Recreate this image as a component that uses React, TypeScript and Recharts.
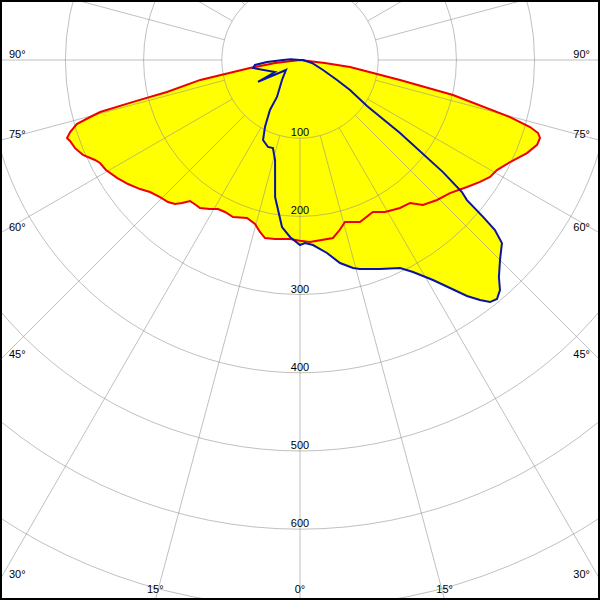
import React from 'react';
import { RadarChart, Radar, PolarGrid, PolarAngleAxis, PolarRadiusAxis } from 'recharts';

// ---- data (gamma in degrees, intensity in cd/klm) ----
// C0 / C180 plane (red), right half and left half
const redRight: [number, number][] = [
  [0, 231], [3.1, 233], [10.5, 231.5], [13.2, 223], [15.5, 215], [20.3, 221],
  [25.6, 215.6], [29.2, 222.7], [34.05, 228.4], [37.6, 230.7], [40.3, 243],
  [44.4, 250.5], [48.4, 256.4], [52.75, 268.3], [55.9, 278], [58.4, 285.3],
  [60.8, 288.5], [64.1, 298.6], [67.7, 313.7], [70.3, 322], [72.0, 322.7],
  [72.95, 318.4], [73.76, 306.4], [74.8, 278.3], [77.1, 200.7], [78.7, 130.4],
  [82, 64.6], [83.2, 32], [90, 0],
];
const redLeft: [number, number][] = [
  [3.2, 229.3], [7.95, 231.1], [11.12, 232], [13.1, 225.8], [15.34, 217.5],
  [18.54, 213.1], [23.1, 218.3], [26.26, 216.7], [28.8, 217.5], [31.13, 222.6],
  [34.05, 228.4], [35.65, 228.2], [37.96, 228.7], [39.5, 237.1], [40.96, 243.8],
  [42.9, 247.9], [45.6, 250.5], [48.65, 255.5], [51.1, 262.8], [54.2, 271.1],
  [57.2, 278.4], [60.45, 285.2], [62.75, 287.7], [64.0, 291.7], [66.4, 302.9],
  [68.6, 309], [70.6, 311.8], [71.5, 314.2], [72.6, 308], [74.0, 297],
  [74.8, 278], [75.4, 264], [75.9, 220], [76.5, 175], [78.7, 130], [80.9, 65],
  [83.2, 32], [90, 0],
];
// C90 / C270 plane (blue), right half and left half
const blueRight: [number, number][] = [
  [0, 236.6], [1.57, 234.1], [4.0, 237.2], [7.96, 249.2], [11.15, 264.6],
  [14.3, 274.5], [16.0, 278], [20.9, 286.2], [25.7, 295.1], [28.06, 307.2],
  [31.15, 328.7], [33.34, 349], [35.28, 369.7], [36.87, 383.6], [38.13, 393.5],
  [39.5, 396], [41.0, 389.8], [42.5, 376.5], [45.0, 361.7], [47.8, 348.6],
  [48.9, 330.8], [49.4, 308.3], [50.0, 278.7], [50.8, 267.2], [51.9, 232.3],
  [53.9, 158.3], [55.5, 104], [59.0, 74.6], [61.6, 53.8], [66.5, 32.1],
  [76, 15.8], [90, 3.8], [180, 0],
];
const blueLeft: [number, number][] = [
  [95, 12], [90, 21.7], [86.5, 42.3], [83.7, 57.9], [80.3, 61], [64.4, 35.5],
  [62.4, 60.6], [54.5, 22], [42, 34.4], [31.9, 55.7], [31.0, 74.6], [27.6, 96.7],
  [24.8, 112.7], [20.2, 118.5], [17.1, 117.7], [14.0, 131.8], [10.3, 178.1],
  [6.15, 214.8], [3.23, 226.7],
];

const ringValues = [100, 200, 300, 400, 500, 600, 700, 800];
const labelledRings = [100, 200, 300, 400, 500, 600];
const angleTicks = [0, 15, 30, 45, 60, 75, 90, 105, 120, 135, 150, 165, 180,
  195, 210, 225, 240, 255, 270, 285, 300, 315, 330, 345];

// ---- layout ----
const W = 600;
const H = 600;
const CX = 300;
const CY = 60;
const OUTER = 625.6; // pixel radius of 800
const INNER = 78.2; // pixel radius of 100 (grid starts here)
const FONT = '"Liberation Sans", Arial, sans-serif';
const TEXT_STYLE: React.CSSProperties = { fill: '#000000', stroke: 'none' };

type Pt = { pos: number; v: number };
function buildData(right: [number, number][], left: [number, number][]): Pt[] {
  const r = right.map(([g, v]) => ({ pos: g, v })).sort((a, b) => a.pos - b.pos);
  const l = left.map(([g, v]) => ({ pos: 360 - g, v })).sort((a, b) => a.pos - b.pos);
  return [...r, ...l];
}
const redData = buildData(redRight, redLeft);
const blueData = buildData(blueRight, blueLeft);
const gridData: Pt[] = ringValues.map((v, i) => ({ pos: angleTicks[i], v }));

const AngleTick = (props: any) => {
  const pos = Number(props?.payload?.value);
  const gamma = pos <= 180 ? pos : 360 - pos;
  if (!(gamma <= 90)) return <g />;
  const side = pos === 0 ? 0 : pos < 180 ? 1 : -1;
  const rad = (gamma * Math.PI) / 180;
  const s = Math.sin(rad);
  const c = Math.cos(rad);
  const tSide = s > 1e-9 ? (side === 1 ? W - CX : CX) / s : Infinity;
  const tBot = c > 1e-9 ? (H - CY) / c : Infinity;
  const label = `${gamma}°`;
  if (tSide < tBot) {
    const yHit = CY + tSide * c;
    return side === 1 ? (
      <text x={590} y={yHit - 2} textAnchor="end" fontSize={11} fontFamily={FONT} style={TEXT_STYLE}>{label}</text>
    ) : (
      <text x={9} y={yHit - 2} textAnchor="start" fontSize={11} fontFamily={FONT} style={TEXT_STYLE}>{label}</text>
    );
  }
  const xHit = CX + side * tBot * s;
  return <text x={xHit} y={593} textAnchor="middle" fontSize={11} fontFamily={FONT} style={TEXT_STYLE}>{label}</text>;
};

const RadiusTick = (props: any) => {
  const { x, y, payload } = props;
  if (!labelledRings.includes(Number(payload?.value))) return <g />;
  return (
    <text x={x} y={y - 2} textAnchor="middle" fontSize={11} fontFamily={FONT} style={TEXT_STYLE}>
      {payload.value}
    </text>
  );
};

const layerStyle: React.CSSProperties = { position: 'absolute', left: 0, top: 0 };
const margin = { top: 0, right: 0, bottom: 0, left: 0 };

function CurveLayer({ data, mode, color }: { data: Pt[]; mode: 'fill' | 'stroke'; color: string }) {
  return (
    <div style={layerStyle}>
      <RadarChart width={W} height={H} cx={CX} cy={CY} innerRadius={0} outerRadius={OUTER}
        startAngle={-90} endAngle={270} data={data} margin={margin}>
        <PolarAngleAxis dataKey="pos" type="number" domain={[0, 360]} axisLine={false} tick={false} tickLine={false} />
        <PolarRadiusAxis type="number" domain={[0, 800]} axisLine={false} tick={false} />
        {mode === 'fill' ? (
          <Radar dataKey="v" fill={color} fillOpacity={1} stroke="none" dot={false} activeDot={false} isAnimationActive={false} />
        ) : (
          <Radar dataKey="v" fill="none" fillOpacity={0} stroke={color} strokeWidth={2} dot={false} activeDot={false} isAnimationActive={false} />
        )}
      </RadarChart>
    </div>
  );
}

function GridLayer() {
  return (
    <div style={layerStyle}>
      <RadarChart width={W} height={H} cx={CX} cy={CY} innerRadius={INNER} outerRadius={OUTER}
        startAngle={-90} endAngle={270} data={gridData} margin={margin}>
        <PolarGrid gridType="circle" stroke="#8c8c8c" strokeOpacity={0.55} strokeWidth={1} />
        <PolarAngleAxis dataKey="pos" type="number" domain={[0, 360]} ticks={angleTicks}
          axisLine={false} tickLine={false} tick={AngleTick} />
        <PolarRadiusAxis type="number" domain={[100, 800]} ticks={ringValues} angle={-90}
          allowDataOverflow axisLine={false} tickLine={false} tick={RadiusTick} />
        <Radar dataKey="v" fill="none" stroke="none" dot={false} activeDot={false} isAnimationActive={false} />
      </RadarChart>
    </div>
  );
}

export default function App() {
  return (
    <div style={{ position: 'absolute', left: 0, top: 0, width: W, height: H, background: '#fff', overflow: 'hidden' }}>
      <CurveLayer data={redData} mode="fill" color="#ffff00" />
      <CurveLayer data={blueData} mode="fill" color="#ffff00" />
      <GridLayer />
      <CurveLayer data={redData} mode="stroke" color="#ee0000" />
      <CurveLayer data={blueData} mode="stroke" color="#0a14a0" />
      <div style={{ position: 'absolute', left: 0, top: 0, width: W, height: H, boxSizing: 'border-box', border: '2px solid #000', pointerEvents: 'none' }} />
    </div>
  );
}
